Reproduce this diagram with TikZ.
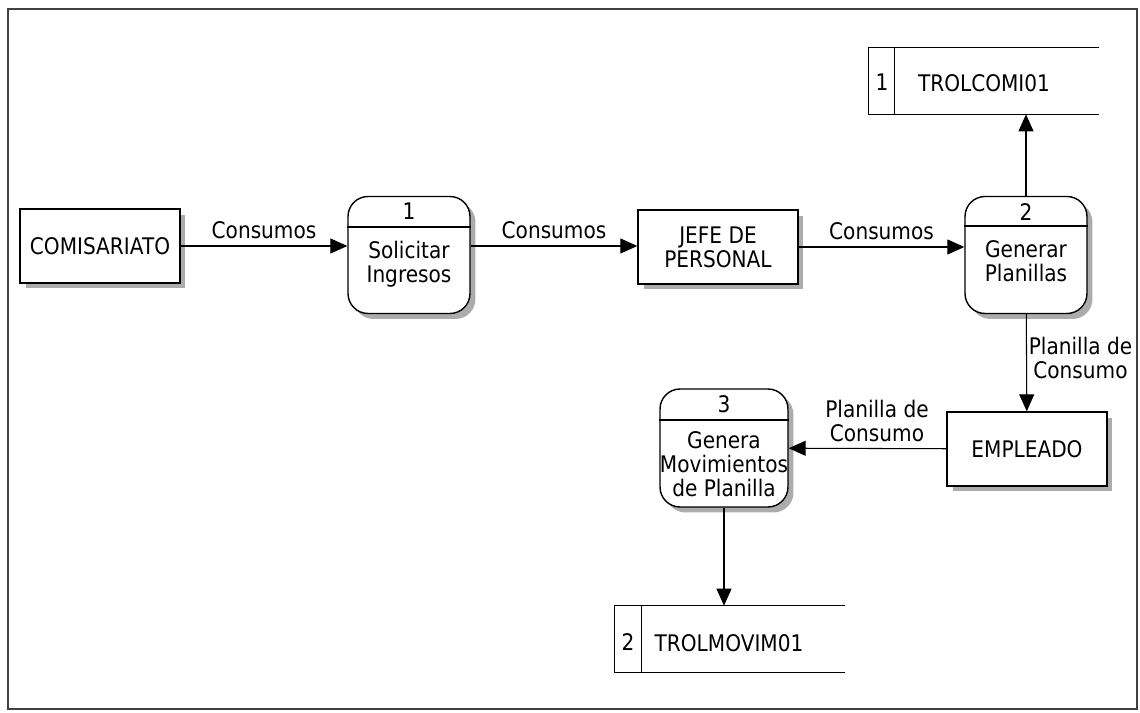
\documentclass[tikz,border=0pt]{standalone}
\usepackage{fontspec}
\setmainfont{DejaVu Sans}[FakeStretch=0.88]
\usetikzlibrary{arrows.meta,shadows}

\begin{document}
\begin{tikzpicture}[x=0.02cm,y=-0.02cm,
  font=\fontsize{13}{13.5}\selectfont,
  shade/.style={drop shadow={shadow xshift=0.11cm,shadow yshift=-0.11cm,fill=black!65}},
  ent/.style={draw,line width=0.8pt,fill=white,minimum width=3.2cm,minimum height=1.48cm,inner sep=1,shade},
  proc/.style={draw,line width=0.8pt,fill=white,rounded corners=0.4cm,minimum width=2.44cm,minimum height=2.34cm,shade},
  store/.style={minimum width=4.6cm,minimum height=1.32cm,inner sep=0},
  flow/.style={-{Triangle[length=3.4mm,width=3mm]},line width=0.6pt},
  lbl/.style={align=center,inner sep=1},
  lblup/.style={lbl,above,yshift=0.09cm}]

\useasboundingbox (0,0) rectangle (1140,713);
\draw [line width=1pt,black!75] (8,9) rectangle (1137,709);

% externals
\node [ent] (com) at (100,246) {COMISARIATO};
\node [ent,align=center] (jefe) at (718,247) {JEFE DE\\PERSONAL};
\node [ent] (emp) at (1027,449) {EMPLEADO};

% processes
\node [proc] (p1) at (409,255) {};
\node (p1n) at (409,211) {1};
\node [align=center] (p1t) at (409,264) {Solicitar\\Ingresos};
\draw [line width=0.8pt] (p1.west |- 0,227) -- (p1.east |- 0,227);

\node [proc] (p2) at (1026,255) {};
\node (p2n) at (1026,212) {2};
\node [align=center] (p2t) at (1026,261) {Generar\\Planillas};
\draw [line width=0.8pt] (p2.west |- 0,226) -- (p2.east |- 0,226);

\node [proc,minimum width=2.56cm,minimum height=2.36cm] (p3) at (724,448) {};
\node (p3n) at (724,404) {3};
\node [align=center] (p3t) at (724,464) {Genera\\Movimientos\\de Planilla};
\draw [line width=0.8pt] (p3.west |- 0,420) -- (p3.east |- 0,420);

% data stores
\node [store] (s1) at (984,81) {};
\node (s1n) at (882,82) {1};
\node (s1t) at (984,83) {TROLCOMI01};
\draw [line width=0.8pt] (s1.north east) -- (s1.north west) -- (s1.south west) -- (s1.south east);
\draw [line width=0.8pt] (s1.north west) ++(26,0) -- ++(0,66);

\node [store] (s2) at (730,639) {};
\node (s2n) at (628,642) {2};
\node (s2t) at (729,643) {TROLMOVIM01};
\draw [line width=0.8pt] (s2.north east) -- (s2.north west) -- (s2.south west) -- (s2.south east);
\draw [line width=0.8pt] (s2.north west) ++(27,0) -- ++(0,66);

% flows
\draw [flow] (com) -- node [lblup] {Consumos} (com -| p1.west);
\draw [flow] (com -| p1.east) -- node [lblup] {Consumos} (com -| jefe.west);
\draw [flow] (jefe) -- node [lblup] {Consumos} (jefe -| p2.west);
\draw [flow] (p2) -- (p2 |- s1.south);
\draw [flow] (p2) -- node [lbl,right,pos=0.45] {Planilla de\\Consumo} (emp);
\draw [flow] (emp) -- node [lblup,pos=0.44] {Planilla de\\Consumo} (p3);
\draw [flow] (p3) -- (p3 |- s2.north);
\end{tikzpicture}
\end{document}
